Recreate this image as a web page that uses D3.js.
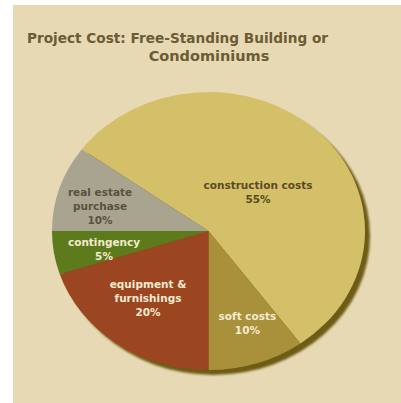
<!DOCTYPE html>
<html><head><meta charset="utf-8">
<script src="https://cdn.jsdelivr.net/npm/d3@7"></script>
<style>html,body{margin:0;padding:0;background:#fff;}svg{display:block;}</style>
</head><body>
<script>
const categories = ["construction costs","soft costs","equipment & furnishings","contingency","real estate purchase"];
const values = [55, 10, 20, 5, 10];
const labelLines = [["construction costs","55%"],["soft costs","10%"],["equipment &","furnishings","20%"],["contingency","5%"],["real estate","purchase","10%"]];
const sliceColors = ["#d5c06a","#a8913a","#9c4521","#5d7a1c","#a9a48f"];
const labelColors = ["#5a4a1e","#f3ead0","#f3ead0","#f3ead0","#5a5140"];
const titleLines = ["Project Cost: Free-Standing Building or","Condominiums"];

const W = 401, H = 403;
const svg = d3.select("body").append("svg").attr("width", W).attr("height", H);
svg.append("rect").attr("x",13).attr("y",5).attr("width",W-13).attr("height",H-5).attr("fill","#e6d9b4");

const defs = svg.append("defs");
defs.append("filter").attr("id","blur").append("feGaussianBlur").attr("stdDeviation",1.2);

const cx = 208.5, cy = 231, rx = 156.5, ry = 139;
const startAngle = -54 * Math.PI/180;
const pie = d3.pie().sort(null).value(d=>d).startAngle(startAngle).endAngle(startAngle + 2*Math.PI);
const arcs = pie(values);
const arc = d3.arc().innerRadius(0).outerRadius(rx);

// shadow
svg.append("ellipse").attr("cx",cx+5).attr("cy",cy+5).attr("rx",rx).attr("ry",ry)
  .attr("fill","#6e5c12").attr("filter","url(#blur)");

const g = svg.append("g").attr("transform",`translate(${cx},${cy}) scale(1,${ry/rx})`);
g.selectAll("path").data(arcs).join("path")
  .attr("d", arc).attr("fill",(d,i)=>sliceColors[i]);

// label placement (layout, polar in un-squashed pie coords)
const labelAngleDeg = [48.4, 159.4, 218.7, 259, 284.6];
const labelRadius = [0.423, 0.707, 0.618, 0.68, 0.716];
const fontStack = "'Century Gothic','DejaVu Sans','Noto Sans',sans-serif";
arcs.forEach((d,i)=>{
  const a = labelAngleDeg[i]*Math.PI/180;
  const r = rx*labelRadius[i];
  const x = cx + Math.sin(a)*r;
  const y = cy - Math.cos(a)*r*(ry/rx);
  const lines = labelLines[i];
  const lh = 14;
  const t = svg.append("text").attr("text-anchor","middle")
    .attr("font-family",fontStack).attr("font-weight","bold").attr("font-size",10.5)
    .attr("fill",labelColors[i]);
  lines.forEach((ln,j)=>{
    t.append("tspan").attr("x",x).attr("y", y + (j - (lines.length-1)/2)*lh + 4).text(ln);
  });
});

// title
svg.append("text").attr("x",27).attr("y",43).attr("font-family",fontStack).attr("font-weight","bold")
  .attr("font-size",14.5).attr("fill","#6b5c33").attr("textLength",301).attr("lengthAdjust","spacingAndGlyphs")
  .text(titleLines[0]);
svg.append("text").attr("x",209).attr("y",61).attr("text-anchor","middle").attr("font-family",fontStack).attr("font-weight","bold")
  .attr("font-size",14.5).attr("fill","#6b5c33").text(titleLines[1]);
</script>
</body></html>
